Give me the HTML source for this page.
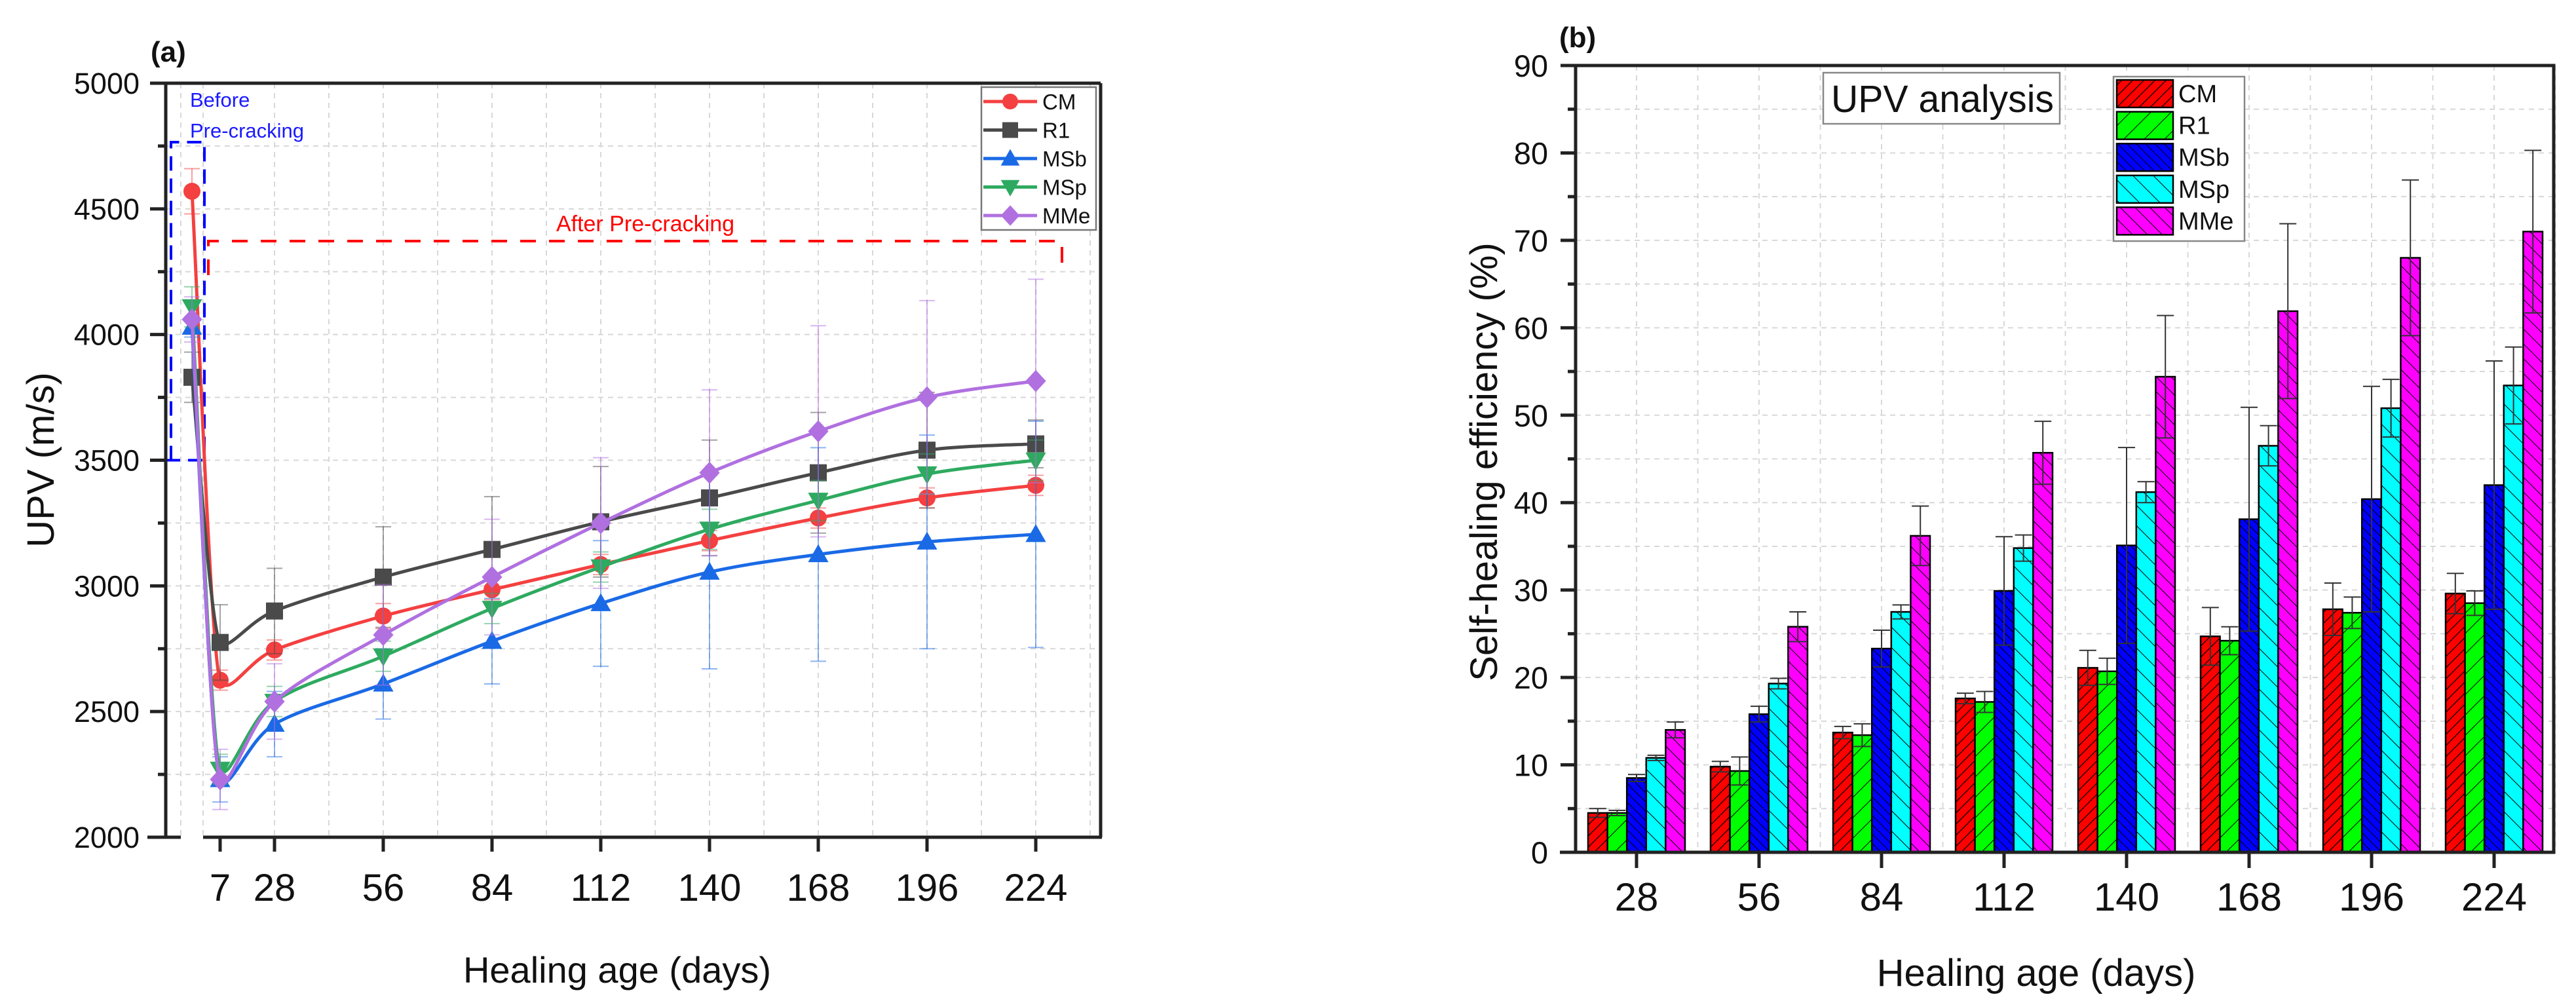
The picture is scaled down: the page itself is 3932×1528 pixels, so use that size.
<!DOCTYPE html>
<html><head><meta charset="utf-8">
<style>
html,body{margin:0;padding:0;background:#fff;}
svg{display:block;font-family:"Liberation Sans",Arial,sans-serif;}
</style></head>
<body>
<svg id="fig" width="3932" height="1528" viewBox="0 0 3932 1528" xmlns="http://www.w3.org/2000/svg">
<defs>
<pattern id="hCM" patternUnits="userSpaceOnUse" width="12" height="12" patternTransform="rotate(45)"><rect width="12" height="12" fill="#ff0000"/><line x1="0" y1="0" x2="0" y2="12" stroke="#000" stroke-width="2.5"/></pattern>
<pattern id="hR1" patternUnits="userSpaceOnUse" width="22" height="22" patternTransform="rotate(45)"><rect width="22" height="22" fill="#00ff00"/><line x1="0" y1="0" x2="0" y2="22" stroke="#000" stroke-width="2"/></pattern>
<pattern id="hMSb" patternUnits="userSpaceOnUse" width="10" height="10" patternTransform="rotate(-45)"><rect width="10" height="10" fill="#0000ff"/><line x1="0" y1="0" x2="0" y2="10" stroke="#000" stroke-width="2"/></pattern>
<pattern id="hMSp" patternUnits="userSpaceOnUse" width="22" height="22" patternTransform="rotate(-45)"><rect width="22" height="22" fill="#00ffff"/><line x1="0" y1="0" x2="0" y2="22" stroke="#000" stroke-width="2"/></pattern>
<pattern id="hMMe" patternUnits="userSpaceOnUse" width="16" height="16" patternTransform="rotate(-45)"><rect width="16" height="16" fill="#ff00ff"/><line x1="0" y1="0" x2="0" y2="16" stroke="#000" stroke-width="2"/></pattern>
</defs>
<g id="pa"></g>
<g id="pb"></g>
</svg>
<script>
// ---------- Panel (a) data ----------
const ageLabelsA = ["pre", "7", "28", "56", "84", "112", "140", "168", "196", "224"];
const ageDaysA = [0, 7, 28, 56, 84, 112, 140, 168, 196, 224];
const cmUPV  = [4570, 2625, 2745, 2880, 2985, 3085, 3180, 3270, 3350, 3400];
const r1UPV  = [3830, 2775, 2900, 3035, 3145, 3255, 3350, 3450, 3540, 3565];
const msbUPV = [4030, 2230, 2450, 2610, 2780, 2930, 3055, 3125, 3175, 3205];
const mspUPV = [4110, 2270, 2540, 2720, 2910, 3075, 3225, 3340, 3445, 3500];
const mmeUPV = [4060, 2230, 2540, 2805, 3035, 3250, 3450, 3615, 3750, 3815];
const cmErr  = [90, 40, 40, 50, 40, 40, 40, 40, 40, 40];
const r1Err  = [100, 150, 170, 200, 210, 220, 230, 240, 230, 95];
const msbErr = [40, 90, 130, 140, 170, 250, 385, 425, 425, 450];
const mspErr = [80, 60, 60, 60, 60, 60, 80, 80, 80, 80];
const mmeErr = [90, 120, 150, 200, 230, 260, 330, 420, 385, 405];
const yTicksA = [2000, 2500, 3000, 3500, 4000, 4500, 5000];
const xTickLabelsA = ["7", "28", "56", "84", "112", "140", "168", "196", "224"];

// ---------- Panel (b) data ----------
const ageLabelsB = ["28", "56", "84", "112", "140", "168", "196", "224"];
const cmEff  = [4.5, 9.8, 13.7, 17.6, 21.1, 24.7, 27.8, 29.6];
const r1Eff  = [4.5, 9.3, 13.4, 17.2, 20.7, 24.2, 27.4, 28.5];
const msbEff = [8.5, 15.8, 23.3, 29.9, 35.1, 38.1, 40.4, 42.0];
const mspEff = [10.8, 19.3, 27.5, 34.8, 41.2, 46.5, 50.8, 53.4];
const mmeEff = [14.0, 25.8, 36.2, 45.7, 54.4, 61.9, 68.0, 71.0];
const cmEffErr  = [0.5, 0.6, 0.7, 0.6, 2.0, 3.3, 3.0, 2.3];
const r1EffErr  = [0.3, 1.6, 1.3, 1.2, 1.5, 1.6, 1.8, 1.4];
const msbEffErr = [0.4, 0.9, 2.1, 6.2, 11.2, 12.8, 12.9, 14.2];
const mspEffErr = [0.3, 0.6, 0.8, 1.5, 1.2, 2.3, 3.3, 4.4];
const mmeEffErr = [0.9, 1.7, 3.4, 3.6, 7.0, 10.0, 8.9, 9.3];
const yTicksB = [0, 10, 20, 30, 40, 50, 60, 70, 80, 90];

const NS = "http://www.w3.org/2000/svg";
function mk(parent, tag, attrs, text) {
  const e = document.createElementNS(NS, tag);
  for (const k in attrs) e.setAttribute(k, attrs[k]);
  if (text !== undefined) e.textContent = text;
  parent.appendChild(e);
  return e;
}

// ================= PANEL A =================
const pa = document.getElementById('pa');
const AL = 253, AR = 1680, AT = 127, AB = 1278;
function ya(v) { return AT + (5000 - v) * (AB - AT) / 3000; }
function xa(d) {
  if (d === 0) return 293;
  if (d === 7) return 336;
  return 419 + (d - 28) * 166 / 28;
}
const ga = mk(pa, 'g', {});


for (let v = 2250; v < 5000; v += 250) {
  mk(ga, 'line', {x1: AL, x2: AR, y1: ya(v), y2: ya(v), stroke: '#d8d8d8', 'stroke-width': 2, 'stroke-dasharray': '8 7'});
}
const vgrid = [276, 310];
for (let d = 28; d <= 238; d += 14) vgrid.push(xa(d));
vgrid.forEach(x => mk(ga, 'line', {x1: x, x2: x, y1: AT, y2: AB, stroke: '#d8d8d8', 'stroke-width': 2, 'stroke-dasharray': '8 7'}));

const ann = mk(pa, 'g', {});


mk(ann, 'path', {d: `M261 ${ya(3500)} L261 217 L312 217 L312 ${ya(3500)}`, fill: 'none', stroke: '#0000ff', 'stroke-width': 4, 'stroke-dasharray': '22 12'});
mk(ann, 'line', {x1: 253, x2: 312, y1: ya(3500), y2: ya(3500), stroke: '#0000ff', 'stroke-width': 4, 'stroke-dasharray': '22 12'});
mk(ann, 'text', {x: 290, y: 163, 'font-size': 31, fill: '#1a1aff'}, 'Before');
mk(ann, 'text', {x: 290, y: 210, 'font-size': 31, fill: '#1a1aff'}, 'Pre-cracking');
const ann2 = mk(pa, 'g', {});


mk(ann2, 'path', {d: 'M318 420 L318 368 L1621 368 L1621 420', fill: 'none', stroke: '#ff0000', 'stroke-width': 4, 'stroke-dasharray': '24 20'});
mk(ann2, 'text', {x: 985, y: 353, 'font-size': 34, fill: '#ff0000', 'text-anchor': 'middle'}, 'After Pre-cracking');

const seriesA = [
  {name: 'CM', vals: cmUPV, err: cmErr, color: '#f44040', marker: 'circle'},
  {name: 'R1', vals: r1UPV, err: r1Err, color: '#4a4a4a', marker: 'square'},
  {name: 'MSb', vals: msbUPV, err: msbErr, color: '#1a6ae6', marker: 'up'},
  {name: 'MSp', vals: mspUPV, err: mspErr, color: '#2eaa60', marker: 'down'},
  {name: 'MMe', vals: mmeUPV, err: mmeErr, color: '#b070e0', marker: 'diamond'}
];
function marker(g, type, x, y, color, s) {
  let m;
  if (type === 'circle') m = mk(g, 'circle', {cx: x, cy: y, r: s, fill: color});
  else if (type === 'square') m = mk(g, 'rect', {x: x - s, y: y - s, width: 2 * s, height: 2 * s, fill: color});
  else if (type === 'up') m = mk(g, 'polygon', {points: `${x},${y - s * 1.2} ${x - s * 1.2},${y + s * 0.9} ${x + s * 1.2},${y + s * 0.9}`, fill: color});
  else if (type === 'down') m = mk(g, 'polygon', {points: `${x},${y + s * 1.2} ${x - s * 1.2},${y - s * 0.9} ${x + s * 1.2},${y - s * 0.9}`, fill: color});
  else m = mk(g, 'polygon', {points: `${x},${y - s * 1.3} ${x + s * 1.2},${y} ${x},${y + s * 1.3} ${x - s * 1.2},${y}`, fill: color});
  return m;
}
function tangent(pts, i) {
  const p0 = pts[Math.max(0, i - 1)], p2 = pts[Math.min(pts.length - 1, i + 1)];
  let tx = (p2[0] - p0[0]) / 6, ty = (p2[1] - p0[1]) / 6;
  if (i === 1) { tx = (pts[2][0] - pts[1][0]) / 6; ty = ty * 0.25; }
  return [tx, ty];
}
function splinePath(pts) {
  let d = `M${pts[0][0]},${pts[0][1]}`;
  for (let i = 0; i < pts.length - 1; i++) {
    const p1 = pts[i], p2 = pts[i + 1];
    const t1 = tangent(pts, i), t2 = tangent(pts, i + 1);
    d += ` C${p1[0] + t1[0]},${p1[1] + t1[1]} ${p2[0] - t2[0]},${p2[1] - t2[1]} ${p2[0]},${p2[1]}`;
  }
  return d;
}
seriesA.forEach(s => {
  const g = mk(pa, 'g', {});
  
  
  s.vals.forEach((v, i) => {
    const x = xa(ageDaysA[i]);
    const e = s.err[i];
    mk(g, 'line', {x1: x, x2: x, y1: ya(v + e), y2: ya(v - e), stroke: s.color, 'stroke-opacity': 0.5, 'stroke-width': 2});
    mk(g, 'line', {x1: x - 12, x2: x + 12, y1: ya(v + e), y2: ya(v + e), stroke: s.color, 'stroke-opacity': 0.5, 'stroke-width': 2});
    mk(g, 'line', {x1: x - 12, x2: x + 12, y1: ya(v - e), y2: ya(v - e), stroke: s.color, 'stroke-opacity': 0.5, 'stroke-width': 2});
  });
  const pts = s.vals.map((v, i) => [xa(ageDaysA[i]), ya(v)]);
  mk(g, 'path', {d: splinePath(pts), fill: 'none', stroke: s.color, 'stroke-width': 5});
  pts.forEach((p, i) => {
    const m = marker(g, s.marker, p[0], p[1], s.color, 13);
    
    
  });
});

const axA = mk(pa, 'g', {});


mk(axA, 'line', {x1: AL, x2: AR, y1: AT, y2: AT, stroke: '#222', 'stroke-width': 5});
mk(axA, 'line', {x1: AR, x2: AR, y1: AT, y2: AB, stroke: '#222', 'stroke-width': 5});
mk(axA, 'line', {x1: AL, x2: AL, y1: AT, y2: AB + 2, stroke: '#222', 'stroke-width': 5});
mk(axA, 'line', {x1: 225, x2: 276, y1: AB, y2: AB, stroke: '#222', 'stroke-width': 5});
mk(axA, 'line', {x1: 310, x2: AR + 2, y1: AB, y2: AB, stroke: '#222', 'stroke-width': 5});
yTicksA.forEach(v => {
  mk(axA, 'line', {x1: AL - 24, x2: AL, y1: ya(v), y2: ya(v), stroke: '#222', 'stroke-width': 5});
  const t = mk(axA, 'text', {x: 213, y: ya(v) + 16, 'font-size': 45, 'text-anchor': 'end', fill: '#111'}, String(v));
  
  
});
for (let v = 2250; v < 5000; v += 500) mk(axA, 'line', {x1: AL - 12, x2: AL, y1: ya(v), y2: ya(v), stroke: '#222', 'stroke-width': 5});
xTickLabelsA.forEach(l => {
  const x = xa(Number(l));
  mk(axA, 'line', {x1: x, x2: x, y1: AB, y2: AB + 22, stroke: '#222', 'stroke-width': 5});
  const t = mk(axA, 'text', {x: x, y: AB + 97, 'font-size': 58, 'text-anchor': 'middle', fill: '#111'}, l);
  
  
});
const xtA = mk(pa, 'text', {x: 942, y: 1500, 'font-size': 56, 'text-anchor': 'middle', fill: '#111'}, 'Healing age (days)');


const ytA = mk(pa, 'text', {x: 0, y: 0, 'font-size': 58, 'text-anchor': 'middle', fill: '#111', transform: 'translate(82,702) rotate(-90)'}, 'UPV (m/s)');


const lblA = mk(pa, 'text', {x: 230, y: 94, 'font-size': 44, 'font-weight': 'bold', fill: '#111'}, '(a)');



const lgA = mk(pa, 'g', {});


mk(lgA, 'rect', {x: 1498, y: 133, width: 175, height: 218, fill: '#fff', stroke: '#777', 'stroke-width': 2.5});
seriesA.forEach((s, i) => {
  const y = 155 + i * 43.5;
  const e = mk(lgA, 'g', {});
  
  
  mk(e, 'line', {x1: 1501, x2: 1583, y1: y, y2: y, stroke: s.color, 'stroke-width': 5});
  marker(e, s.marker, 1542, y, s.color, 12);
  mk(e, 'text', {x: 1591, y: y + 12, 'font-size': 33, fill: '#111'}, s.name);
});

// ================= PANEL B =================
const pb = document.getElementById('pb');
const BL = 2405, BR = 3898, BT = 100, BB = 1301;
function yb(v) { return BB - v * (BB - BT) / 90; }
const groupSpacing = 187, barW = 29.6;
function xb(i) { return 2498 + i * groupSpacing; }
const gb = mk(pb, 'g', {});


for (let v = 5; v < 90; v += 5) mk(gb, 'line', {x1: BL, x2: BR, y1: yb(v), y2: yb(v), stroke: '#d8d8d8', 'stroke-width': 2, 'stroke-dasharray': '8 7'});
for (let i = -0.5; i < 8; i += 0.5) mk(gb, 'line', {x1: xb(i), x2: xb(i), y1: BT, y2: BB, stroke: '#d8d8d8', 'stroke-width': 2, 'stroke-dasharray': '8 7'});

const seriesB = [
  {name: 'CM', vals: cmEff, err: cmEffErr, fill: 'url(#hCM)'},
  {name: 'R1', vals: r1Eff, err: r1EffErr, fill: 'url(#hR1)'},
  {name: 'MSb', vals: msbEff, err: msbEffErr, fill: 'url(#hMSb)'},
  {name: 'MSp', vals: mspEff, err: mspEffErr, fill: 'url(#hMSp)'},
  {name: 'MMe', vals: mmeEff, err: mmeEffErr, fill: 'url(#hMMe)'}
];
seriesB.forEach((s, k) => {
  const g = mk(pb, 'g', {});
  
  
  s.vals.forEach((v, i) => {
    const x = xb(i) + (k - 2.5) * barW;
    const r = mk(g, 'rect', {x: x, y: yb(v), width: barW, height: yb(0) - yb(v), fill: s.fill, stroke: '#000', 'stroke-width': 2.5});
    
    
    const cx = x + barW / 2, e = s.err[i];
    mk(g, 'line', {x1: cx, x2: cx, y1: yb(v + e), y2: yb(v - e), stroke: '#333', 'stroke-width': 2});
    mk(g, 'line', {x1: cx - 13, x2: cx + 13, y1: yb(v + e), y2: yb(v + e), stroke: '#333', 'stroke-width': 2});
    mk(g, 'line', {x1: cx - 13, x2: cx + 13, y1: yb(v - e), y2: yb(v - e), stroke: '#333', 'stroke-width': 2});
  });
});

const axB = mk(pb, 'g', {});


mk(axB, 'rect', {x: BL, y: BT, width: BR - BL, height: BB - BT, fill: 'none', stroke: '#222', 'stroke-width': 5});
mk(axB, 'line', {x1: BL - 24, x2: BL, y1: BB, y2: BB, stroke: '#222', 'stroke-width': 5});
yTicksB.forEach(v => {
  mk(axB, 'line', {x1: BL - 23, x2: BL, y1: yb(v), y2: yb(v), stroke: '#222', 'stroke-width': 5});
  const t = mk(axB, 'text', {x: 2363, y: yb(v) + 17, 'font-size': 47, 'text-anchor': 'end', fill: '#111'}, String(v));
  
  
});
for (let v = 5; v < 90; v += 10) mk(axB, 'line', {x1: BL - 12, x2: BL, y1: yb(v), y2: yb(v), stroke: '#222', 'stroke-width': 5});
ageLabelsB.forEach((l, i) => {
  mk(axB, 'line', {x1: xb(i), x2: xb(i), y1: BB, y2: BB + 24, stroke: '#222', 'stroke-width': 5});
  const t = mk(axB, 'text', {x: xb(i), y: BB + 89, 'font-size': 60, 'text-anchor': 'middle', fill: '#111'}, l);
  
  
});
const xtB = mk(pb, 'text', {x: 3108, y: 1505, 'font-size': 58, 'text-anchor': 'middle', fill: '#111'}, 'Healing age (days)');


const ytB = mk(pb, 'text', {x: 0, y: 0, 'font-size': 58, 'text-anchor': 'middle', fill: '#111', transform: 'translate(2285,705) rotate(-90)'}, 'Self-healing efficiency (%)');


const lblB = mk(pb, 'text', {x: 2380, y: 72, 'font-size': 44, 'font-weight': 'bold', fill: '#111'}, '(b)');



const ub = mk(pb, 'g', {});


mk(ub, 'rect', {x: 2783, y: 111, width: 361, height: 78, fill: '#fff', stroke: '#888', 'stroke-width': 2.5});
mk(ub, 'text', {x: 2795, y: 171, 'font-size': 58, fill: '#111', textLength: 340, lengthAdjust: 'spacingAndGlyphs'}, 'UPV analysis');

const lgB = mk(pb, 'g', {});


mk(lgB, 'rect', {x: 3226, y: 117, width: 200, height: 251, fill: '#fff', stroke: '#888', 'stroke-width': 2.5});
seriesB.forEach((s, i) => {
  const y = 122 + i * 48.6;
  const e = mk(lgB, 'g', {});
  
  
  mk(e, 'rect', {x: 3231, y: y, width: 86, height: 42, fill: s.fill, stroke: '#000', 'stroke-width': 2.5});
  mk(e, 'text', {x: 3325, y: y + 34, 'font-size': 38, fill: '#111'}, s.name);
});
</script>
</body></html>
